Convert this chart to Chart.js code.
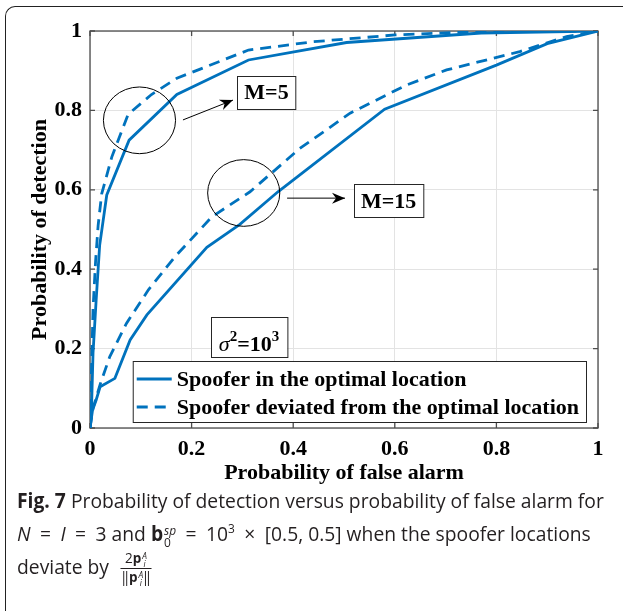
<!DOCTYPE html>
<html>
<head>
<meta charset="utf-8">
<script src="https://cdn.jsdelivr.net/npm/chart.js@4.4.1/dist/chart.umd.min.js"></script>
<style>
  html, body { margin: 0; padding: 0; background: #fff; }
  body { width: 623px; height: 611px; position: relative; overflow: hidden; }
  .frame {
    position: absolute; left: 5px; top: 6px; width: 660px; height: 660px;
    border-top: 1.5px solid #222; border-left: 1.5px solid #222;
    border-top-left-radius: 10px;
  }
  #wrap { position: absolute; left: 0; top: 0; width: 623px; height: 490px; }
  .caption {
    position: absolute; left: 17px; top: 484px;
    font-family: "Open Sans", "Noto Sans", sans-serif; font-size: 20.5px;
    color: #231f20; line-height: 33px; white-space: nowrap; transform-origin: 0 0;
  }
  .caption > div { width: max-content; }
  .op { margin: 0 10px; }
  .ss { display: inline-block; vertical-align: -0.45em; line-height: 0.95; font-size: 0.62em; margin-left: 1px; }
  .ss > span { display: block; }
  .caption sup { font-size: 0.62em; line-height: 0; }
  .frac { display: inline-block; vertical-align: middle; text-align: center; font-size: 0.7em; line-height: 1.15; margin-left: 7px; }
  .frac > span { display: block; padding: 0 1px; }
  .frac .num { border-bottom: 1px solid #231f20; }
</style>
</head>
<body>
<div class="frame"></div>
<div id="wrap"><canvas id="rocChart" width="623" height="490"></canvas></div>
<div class="caption" id="caption">
  <div id="capLine1"><b>Fig. 7</b> Probability of detection versus probability of false alarm for</div>
  <div><i>N</i><span class="op">=</span><i>I</i><span class="op">=</span>3 and <b>b</b><span class="ss"><span><i>sp</i></span><span>0</span></span><span class="op">=</span>10<sup>3</sup><span class="op">×</span>[0.5, 0.5] when the spoofer locations</div>
  <div>deviate by <span class="frac"><span class="num">2<b>p</b><span class="ss"><span><i>A</i></span><span><i>i</i></span></span></span><span class="den">‖<b>p</b><span class="ss"><span><i>A</i></span><span><i>i</i></span></span>‖</span></span></div>
</div>
<script>
// ROC curves: probability of false alarm (x) vs probability of detection (y)
const m5OptimalPfa = [0, 0.003, 0.006, 0.012, 0.019, 0.033, 0.077, 0.171, 0.312, 0.505, 0.77, 1];
const m5OptimalPd  = [0, 0.05, 0.19, 0.32, 0.46, 0.587, 0.725, 0.84, 0.927, 0.971, 0.995, 1];

const m5DeviatedPfa = [0, 0.002, 0.006, 0.011, 0.016, 0.023, 0.043, 0.075, 0.121, 0.171, 0.312, 0.44, 0.6, 0.75, 1];
const m5DeviatedPd  = [0, 0.1, 0.3, 0.42, 0.51, 0.59, 0.683, 0.79, 0.84, 0.881, 0.952, 0.973, 0.99, 0.998, 1];

const m15OptimalPfa = [0, 0.005, 0.012, 0.02, 0.049, 0.079, 0.112, 0.23, 0.295, 0.37, 0.58, 0.8, 0.9, 1];
const m15OptimalPd  = [0, 0.045, 0.07, 0.104, 0.125, 0.222, 0.285, 0.455, 0.513, 0.595, 0.803, 0.914, 0.968, 1];

const m15DeviatedPfa = [0, 0.006, 0.02, 0.039, 0.072, 0.115, 0.167, 0.24, 0.315, 0.413, 0.512, 0.623, 0.702, 0.846, 0.938, 1];
const m15DeviatedPd  = [0, 0.05, 0.11, 0.18, 0.264, 0.348, 0.431, 0.532, 0.595, 0.704, 0.793, 0.864, 0.902, 0.948, 0.986, 1];

const tickValues = [0, 0.2, 0.4, 0.6, 0.8, 1];
const legendLabels = ['Spoofer in the optimal location', 'Spoofer deviated from the optimal location'];

const lineColor = '#0072bd';
const dashPattern = [11, 7];
const serifBold = { family: '"Liberation Serif", "DejaVu Serif", serif', weight: 'bold', size: 22 };

function toPoints(xs, ys) {
    return xs.map((x, i) => ({ x: x, y: ys[i] }));
}

function curve(label, xs, ys, dashed) {
    return {
        label: label,
        data: toPoints(xs, ys),
        borderColor: lineColor,
        borderWidth: 2.8,
        borderDash: dashed ? dashPattern : [],
        pointRadius: 0,
        tension: 0,
        fill: false
    };
}

// Annotations, placed in axis units
const ellipses = [
    { cx: 0.0974, cy: 0.775, rx: 0.071, ry: 0.084 },
    { cx: 0.3026, cy: 0.592, rx: 0.071, ry: 0.084 }
];
const arrows = [
    { x0: 0.183, y0: 0.776, x1: 0.2815, y1: 0.826 },
    { x0: 0.388, y0: 0.579, x1: 0.502, y1: 0.579 }
];
const textBoxes = [
    { x: 0.3474, y: 0.846, text: 'M=5' },
    { x: 0.588, y: 0.5718, text: 'M=15' }
];
const noiseBox = { x: 0.313, y: 0.229 };

// MATLAB style box with inward ticks
const axesBox = {
    id: 'axesBox',
    beforeDatasetsDraw(chart) {
        const { ctx, chartArea: a, scales: { x, y } } = chart;
        const tickLen = 5;
        ctx.save();
        ctx.strokeStyle = '#4d4d4d';
        ctx.lineWidth = 1.3;
        ctx.beginPath();
        tickValues.forEach(v => {
            const px = x.getPixelForValue(v);
            const py = y.getPixelForValue(v);
            ctx.moveTo(px, a.bottom); ctx.lineTo(px, a.bottom - tickLen);
            ctx.moveTo(px, a.top); ctx.lineTo(px, a.top + tickLen);
            ctx.moveTo(a.left, py); ctx.lineTo(a.left + tickLen, py);
            ctx.moveTo(a.right, py); ctx.lineTo(a.right - tickLen, py);
        });
        ctx.stroke();
        ctx.strokeRect(a.left, a.top, a.width, a.height);
        ctx.restore();
    }
};

function drawArrowHead(ctx, x0, y0, x1, y1) {
    const ang = Math.atan2(y1 - y0, x1 - x0);
    const len = 13, half = 5.5, notch = 4;
    ctx.save();
    ctx.translate(x1, y1);
    ctx.rotate(ang);
    ctx.beginPath();
    ctx.moveTo(0, 0);
    ctx.lineTo(-len, -half);
    ctx.lineTo(-len + notch, 0);
    ctx.lineTo(-len, half);
    ctx.closePath();
    ctx.fill();
    ctx.restore();
}

const overlays = {
    id: 'overlays',
    afterDatasetsDraw(chart) {
        const { ctx, chartArea: a, scales: { x, y } } = chart;
        const px = v => x.getPixelForValue(v);
        const py = v => y.getPixelForValue(v);
        const font = 'bold 22px "Liberation Serif", serif';
        ctx.save();

        // legend (southeast)
        ctx.font = font;
        const sample = 35, padL = 4, gap = 5, padR = 7, rowH = 28;
        const textW = Math.max(...legendLabels.map(t => ctx.measureText(t).width));
        const w = padL + sample + gap + textW + padR;
        const h = 61;
        const lx = a.right - 12 - w, ly = a.bottom - 6 - h;
        ctx.fillStyle = '#fff';
        ctx.fillRect(lx, ly, w, h);
        ctx.strokeStyle = '#262626';
        ctx.lineWidth = 1;
        ctx.strokeRect(lx + 0.5, ly + 0.5, w, h);
        legendLabels.forEach((label, i) => {
            const ds = chart.data.datasets[i];
            const ry = ly + 18 + i * rowH;
            ctx.strokeStyle = ds.borderColor;
            ctx.lineWidth = ds.borderWidth;
            ctx.setLineDash(ds.borderDash);
            ctx.beginPath();
            ctx.moveTo(lx + padL, ry);
            ctx.lineTo(lx + padL + sample, ry);
            ctx.stroke();
            ctx.setLineDash([]);
            ctx.fillStyle = '#000';
            ctx.textBaseline = 'middle';
            ctx.textAlign = 'left';
            ctx.fillText(label, lx + padL + sample + gap, ry + 1);
        });

        // circles around the curve pairs
        ctx.strokeStyle = '#000';
        ctx.lineWidth = 1;
        ellipses.forEach(e => {
            ctx.beginPath();
            ctx.ellipse(px(e.cx), py(e.cy),
                Math.abs(px(e.cx + e.rx) - px(e.cx)),
                Math.abs(py(e.cy + e.ry) - py(e.cy)), 0, 0, Math.PI * 2);
            ctx.stroke();
        });

        // arrows
        ctx.fillStyle = '#000';
        arrows.forEach(r => {
            const x0 = px(r.x0), y0 = py(r.y0), x1 = px(r.x1), y1 = py(r.y1);
            ctx.beginPath();
            ctx.moveTo(x0, y0);
            ctx.lineTo(x1, y1);
            ctx.stroke();
            drawArrowHead(ctx, x0, y0, x1, y1);
        });

        // M labels
        ctx.font = font;
        ctx.textAlign = 'center';
        ctx.textBaseline = 'middle';
        textBoxes.forEach(b => {
            const cx = px(b.x), cy = py(b.y);
            const tw = ctx.measureText(b.text).width;
            const bw = tw + 14, bh = 33;
            ctx.fillStyle = '#fff';
            ctx.fillRect(cx - bw / 2, cy - bh / 2, bw, bh);
            ctx.strokeStyle = '#262626';
            ctx.strokeRect(Math.round(cx - bw / 2) + 0.5, Math.round(cy - bh / 2) + 0.5, bw, bh);
            ctx.fillStyle = '#000';
            ctx.fillText(b.text, cx, cy + 1);
        });

        // sigma^2 = 10^3 box
        const parts = [
            { t: '\u03c3', f: 'italic 22px "Liberation Serif", serif', dy: 0 },
            { t: '2', f: 'bold 15px "Liberation Serif", serif', dy: -10 },
            { t: '=10', f: font, dy: 0 },
            { t: '3', f: 'bold 15px "Liberation Serif", serif', dy: -10 }
        ];
        let total = 0;
        parts.forEach(p => { ctx.font = p.f; p.w = ctx.measureText(p.t).width; total += p.w; });
        const scx = px(noiseBox.x), scy = py(noiseBox.y);
        const sbw = total + 16, sbh = 40;
        ctx.fillStyle = '#fff';
        ctx.fillRect(scx - sbw / 2, scy - sbh / 2, sbw, sbh);
        ctx.strokeStyle = '#262626';
        ctx.strokeRect(Math.round(scx - sbw / 2) + 0.5, Math.round(scy - sbh / 2) + 0.5, sbw, sbh);
        ctx.fillStyle = '#000';
        ctx.textAlign = 'left';
        ctx.textBaseline = 'alphabetic';
        let tx = scx - total / 2;
        const base = scy + 14;
        parts.forEach(p => {
            ctx.font = p.f;
            ctx.fillText(p.t, tx, base + p.dy);
            tx += p.w;
        });

        ctx.restore();
    }
};

const setTicks = scale => { scale.ticks = tickValues.map(v => ({ value: v })); };

new Chart(document.getElementById('rocChart').getContext('2d'), {
    type: 'line',
    data: {
        datasets: [
            curve(legendLabels[0], m5OptimalPfa, m5OptimalPd, false),
            curve(legendLabels[1], m5DeviatedPfa, m5DeviatedPd, true),
            curve('M=15 optimal', m15OptimalPfa, m15OptimalPd, false),
            curve('M=15 deviated', m15DeviatedPfa, m15DeviatedPd, true)
        ]
    },
    options: {
        responsive: false,
        animation: false,
        layout: { padding: { left: 0, right: 25, top: 31, bottom: 0 } },
        plugins: { legend: { display: false }, tooltip: { enabled: false } },
        scales: {
            x: {
                type: 'linear', min: 0, max: 1,
                afterBuildTicks: setTicks,
                afterFit: s => { s.height = 62; },
                grid: { color: '#e3e3e3', lineWidth: 1, drawTicks: false },
                border: { display: false },
                ticks: { font: serifBold, color: '#000', padding: 8, maxRotation: 0, callback: v => String(v) },
                title: { display: true, text: 'Probability of false alarm', font: serifBold, color: '#000', padding: { top: 0, bottom: 3 } }
            },
            y: {
                type: 'linear', min: 0, max: 1,
                afterBuildTicks: setTicks,
                afterFit: s => { s.width = 90; },
                grid: { color: '#e3e3e3', lineWidth: 1, drawTicks: false },
                border: { display: false },
                ticks: { font: serifBold, color: '#000', padding: 8, callback: v => String(v) },
                title: { display: true, text: 'Probability of detection', font: serifBold, color: '#000', padding: { top: 27, bottom: 0 } }
            }
        }
    },
    plugins: [axesBox, overlays]
});

// squeeze the caption horizontally so the first line fills the column
const cap = document.getElementById('caption');
const firstLine = document.getElementById('capLine1');
const fitCaption = () => {
    const w = firstLine.offsetWidth;  // layout width, unaffected by the transform
    if (w > 0) cap.style.transform = 'scaleX(' + (587 / w) + ')';
};
fitCaption();
if (document.fonts && document.fonts.ready) document.fonts.ready.then(fitCaption);
</script>
</body>
</html>
